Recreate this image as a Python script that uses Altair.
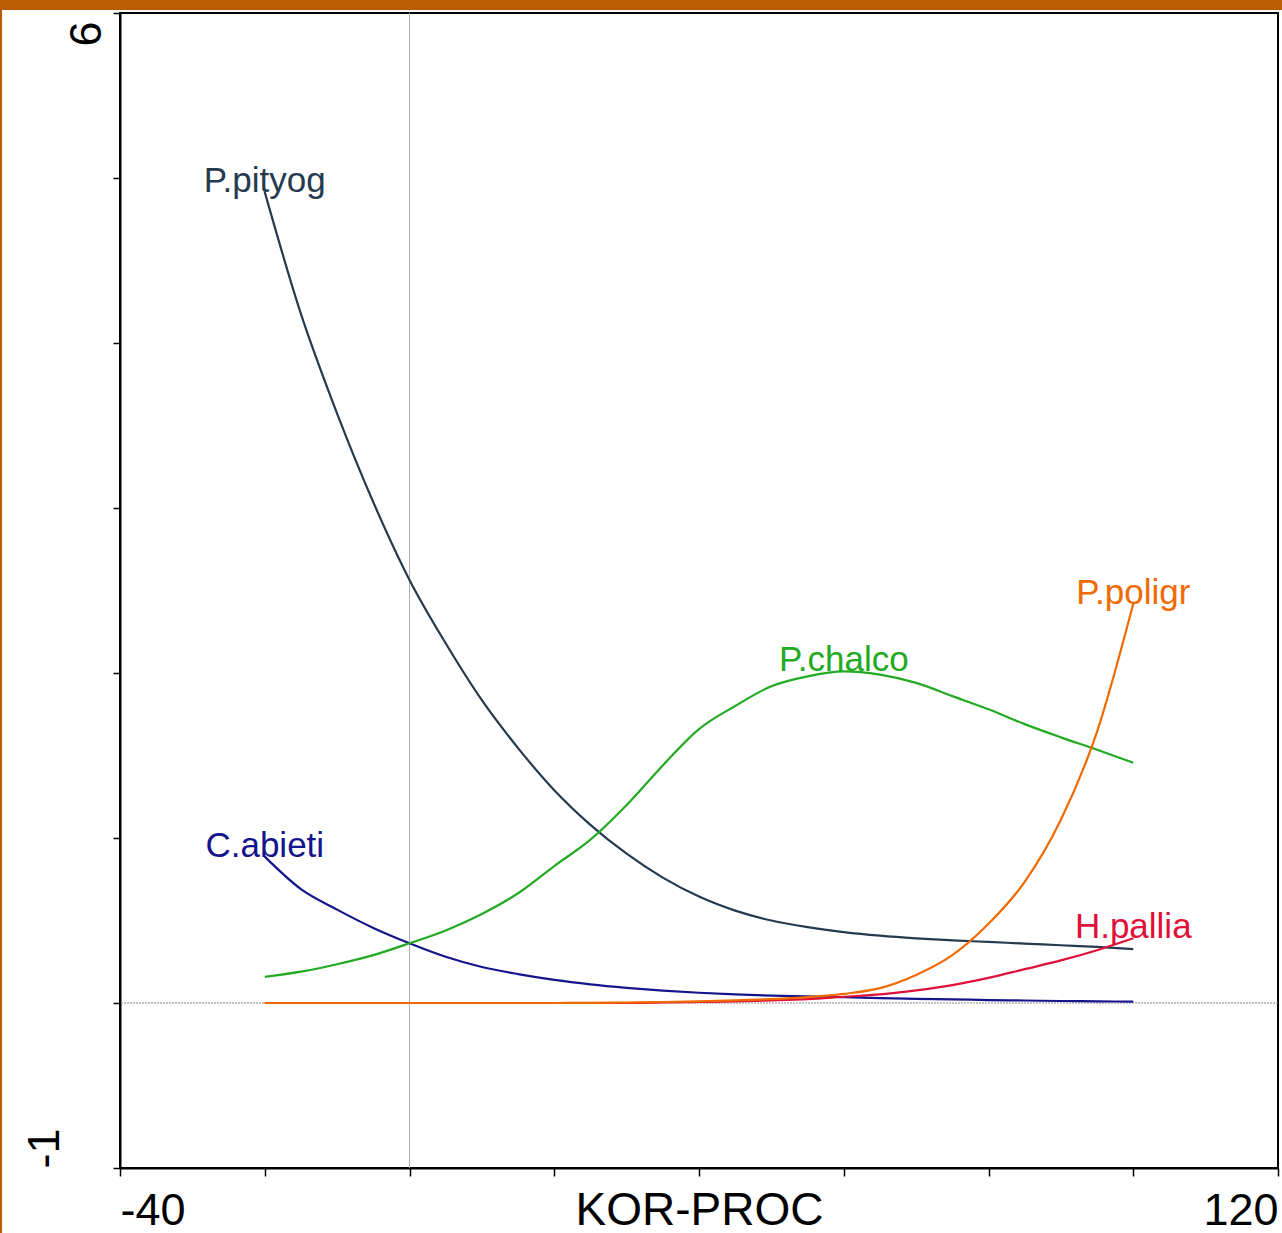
import altair as alt
import pandas as pd

# Gradient positions (KOR-PROC) at which the fitted responses are sampled
kor_proc = [-20, -15, -10, -5, 0, 5, 10, 15, 20, 25, 30, 35, 40,
            45, 50, 55, 60, 65, 70, 75, 80, 85, 90, 95, 100]

# Fitted response of each species along the gradient
p_pityog = [4.915, 4.176, 3.572, 3.035, 2.564, 2.18, 1.835, 1.545, 1.29, 1.08, 0.905, 0.76, 0.645,
            0.56, 0.5, 0.46, 0.43, 0.408, 0.392, 0.38, 0.37, 0.36, 0.35, 0.34, 0.327]
c_abieti = [0.887, 0.69, 0.566, 0.455, 0.362, 0.28, 0.218, 0.175, 0.14, 0.113, 0.092, 0.075, 0.062,
            0.052, 0.045, 0.04, 0.035, 0.03, 0.025, 0.022, 0.018, 0.015, 0.012, 0.01, 0.008]
p_chalco = [0.158, 0.19, 0.235, 0.29, 0.362, 0.44, 0.54, 0.665, 0.83, 0.99, 1.2, 1.44, 1.66,
            1.8, 1.92, 1.98, 2.01, 1.99, 1.94, 1.86, 1.78, 1.69, 1.61, 1.535, 1.456]
h_pallia = [0, 0, 0, 0, 0, 0, 0, 0, 0, 0, 0, 0.003, 0.006,
            0.01, 0.016, 0.024, 0.038, 0.052, 0.076, 0.108, 0.152, 0.205, 0.258, 0.32, 0.392]
p_poligr = [0, 0, 0, 0, 0, 0, 0, 0, 0, 0.001, 0.003, 0.006, 0.01,
            0.016, 0.024, 0.036, 0.055, 0.09, 0.17, 0.29, 0.48, 0.734, 1.11, 1.645, 2.42]

# Drawing order: later species are painted on top
species = ["P.pityog", "C.abieti", "P.chalco", "H.pallia", "P.poligr"]
colors = ["#253a4e", "#14148c", "#22aa22", "#e0103a", "#f06a00"]
series = [p_pityog, c_abieti, p_chalco, h_pallia, p_poligr]

# Where each species name is written: curve start, peak or end
label_x = [-20, -20, 60, 100, 100]

# Axis ticks; only the end values carry a label
x_ticks = [-40, -20, 0, 20, 40, 60, 80, 100, 120]
y_ticks = [-1, 0, 1, 2, 3, 4, 5, 6]

FONT = "Liberation Sans"
color_scale = alt.Scale(domain=species, range=colors)

x_axis = alt.Axis(
    values=x_ticks,
    labelExpr="datum.value == -40 || datum.value == 120 ? '' + datum.value : ''",
    labelFlush=True,
    labelOverlap=False,
    labelFont=FONT,
    labelFontSize=45,
    labelColor="black",
    labelBaseline="alphabetic",
    labelPadding=48,
    tickSize=8,
    tickColor="black",
    tickWidth=1.5,
    domainColor="black",
    domainWidth=2,
    grid=False,
    title="KOR-PROC",
    titleFont=FONT,
    titleFontSize=46,
    titleFontWeight="normal",
    titleColor="black",
    titleBaseline="alphabetic",
    titleY=56,
)

y_axis = alt.Axis(
    values=y_ticks,
    labelExpr="datum.value == -1 || datum.value == 6 ? '' + datum.value : ''",
    labelAngle=270,
    labelFlush=False,
    labelOverlap=False,
    labelFont=FONT,
    labelFontSize=45,
    labelColor="black",
    labelBaseline="alphabetic",
    labelAlign={"condition": {"test": "datum.value == 6", "value": "right"}, "value": "left"},
    labelPadding={"condition": {"test": "datum.value == 6", "value": 13}, "value": 55},
    labelOffset={"condition": {"test": "datum.value == 6", "value": 8}, "value": 0},
    tickSize=7,
    tickColor="black",
    tickWidth=1.5,
    domainColor="black",
    domainWidth=2,
    grid=False,
    title=None,
)

x_scale = alt.Scale(domain=[-40, 120], nice=False, zero=False)
y_scale = alt.Scale(domain=[-1, 6], nice=False, zero=False)

# Reference lines through the origin
zero_x = alt.Chart(pd.DataFrame({"x": [0]})).mark_rule(
    color="#b0b0b0", strokeWidth=1
).encode(x=alt.X("x:Q", scale=x_scale, axis=x_axis))
zero_y = alt.Chart(pd.DataFrame({"y": [0]})).mark_rule(
    color="#888888", strokeWidth=1, strokeDash=[2, 1]
).encode(y=alt.Y("y:Q", scale=y_scale, axis=y_axis))

layers = [zero_x, zero_y]
label_rows = []
for name, vals, col, lx in zip(species, series, colors, label_x):
    df = pd.DataFrame({"x": kor_proc, "y": vals})
    layers.append(
        alt.Chart(df).mark_line(strokeWidth=2.2, color=col, interpolate="monotone").encode(
            x=alt.X("x:Q", scale=x_scale),
            y=alt.Y("y:Q", scale=y_scale),
            order="x:Q",
        )
    )
    label_rows.append({"species": name, "x": lx, "y": vals[kor_proc.index(lx)]})

labels = pd.DataFrame(label_rows)
names = alt.Chart(labels).mark_text(
    align="center", baseline="alphabetic", font=FONT, fontSize=35
).encode(
    x=alt.X("x:Q", scale=x_scale),
    y=alt.Y("y:Q", scale=y_scale),
    text="species:N",
    color=alt.Color("species:N", scale=color_scale, legend=None),
)
layers.append(names)

# Orange page band along the top and left edges
band = pd.DataFrame({"k": [0]})
layers.append(
    alt.Chart(band).mark_rect(color="#ba5c00").encode(
        x=alt.value(-120), x2=alt.value(1162), y=alt.value(-13), y2=alt.value(-3)
    )
)
layers.append(
    alt.Chart(band).mark_rect(color="#ba5c00").encode(
        x=alt.value(-120), x2=alt.value(-118), y=alt.value(-13), y2=alt.value(1220)
    )
)

chart = (
    alt.layer(*layers)
    .properties(
        width=1158,
        height=1155,
        autosize=alt.AutoSizeParams(type="none"),
        padding={"left": 120, "top": 13, "right": 4, "bottom": 65},
        background="white",
    )
    .configure_view(stroke="black", strokeWidth=2, fill="white")
)

chart.save("out.html", embed_options={"renderer": "svg", "actions": False})
